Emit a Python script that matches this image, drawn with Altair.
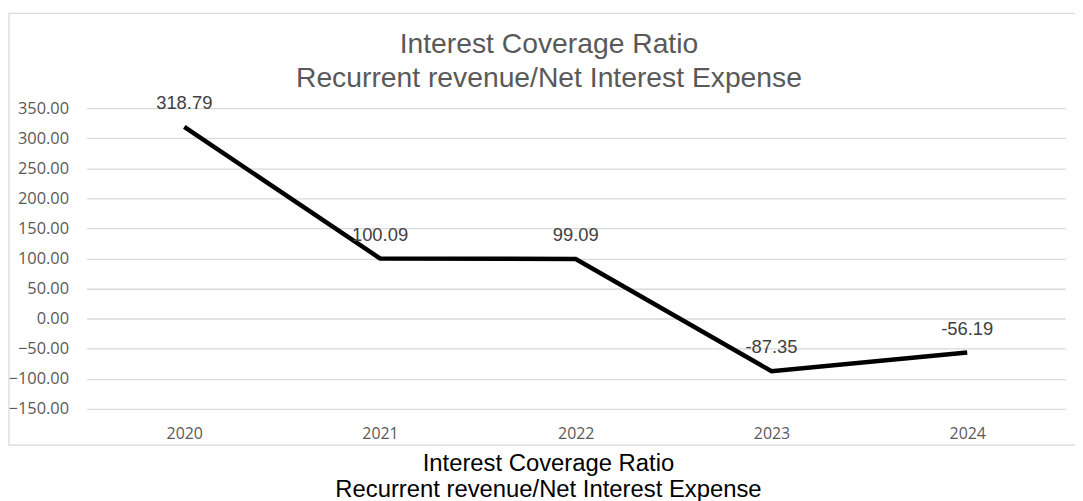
import altair as alt
import pandas as pd

years = ["2020", "2021", "2022", "2023", "2024"]
ratios = [318.79, 100.09, 99.09, -87.35, -56.19]
labels = ["318.79", "100.09", "99.09", "-87.35", "-56.19"]
y_ticks = [-150, -100, -50, 0, 50, 100, 150, 200, 250, 300, 350]
title_lines = ["Interest Coverage Ratio", "Recurrent revenue/Net Interest Expense"]

df = pd.DataFrame({"year": years, "ratio": ratios, "label": labels})
frame_df = pd.DataFrame({"frame": [0]})

x_enc = alt.X(
    "year:N",
    sort=years,
    scale=alt.Scale(type="point", padding=0.5),
    axis=alt.Axis(
        title=title_lines,
        labelFont="Open Sans",
        labelFontSize=16,
        labelColor="#595959",
        labelPadding=17,
        labelAngle=0,
        labelOverlap=False,
        ticks=False,
        domain=False,
        grid=False,
        titleFont="Liberation Sans",
        titleFontSize=24,
        titleFontWeight="normal",
        titleColor="#000000",
        titleX=465,
        titleY=62,
        titleBaseline="alphabetic",
        titleLineHeight=26.5,
    ),
)
y_enc = alt.Y(
    "ratio:Q",
    scale=alt.Scale(domain=[-150, 350], nice=False, zero=False),
    axis=alt.Axis(
        values=y_ticks,
        tickCount=12,
        format=".2f",
        title=None,
        labelFont="Open Sans",
        labelFontSize=16.5,
        labelColor="#595959",
        labelPadding=18,
        labelOverlap=False,
        labelBound=False,
        ticks=False,
        domain=False,
        gridColor="#d9d9d9",
        gridWidth=1.3,
    ),
)

frame = alt.Chart(frame_df).mark_rect(
    fillOpacity=0, stroke="#d9d9d9", strokeWidth=1.3
).encode(
    x=alt.value(-78), x2=alt.value(1000), y=alt.value(-95.5), y2=alt.value(339.5)
)

line = alt.Chart(df).mark_line(color="black", strokeWidth=4.5).encode(x=x_enc, y=y_enc)

text = alt.Chart(df).mark_text(
    font="Liberation Sans", fontSize=18.5, color="#404040", dy=-18, baseline="alphabetic"
).encode(x=alt.X("year:N", sort=years), y="ratio:Q", text="label:N")

chart = alt.layer(frame, line, text).properties(
    width=986,
    height=303,
    title=alt.TitleParams(
        text=title_lines,
        font="Liberation Sans",
        fontSize=28.5,
        fontWeight="normal",
        color="#595959",
        anchor="middle",
        dx=-27,
        offset=-80,
        lineHeight=34,
    ),
    autosize=alt.AutoSizeParams(type="none"),
    padding={"left": 79, "top": 99, "right": 10, "bottom": 91},
).configure_view(stroke=None)

chart.save("out.html", embed_options={"renderer": "svg", "actions": False})
